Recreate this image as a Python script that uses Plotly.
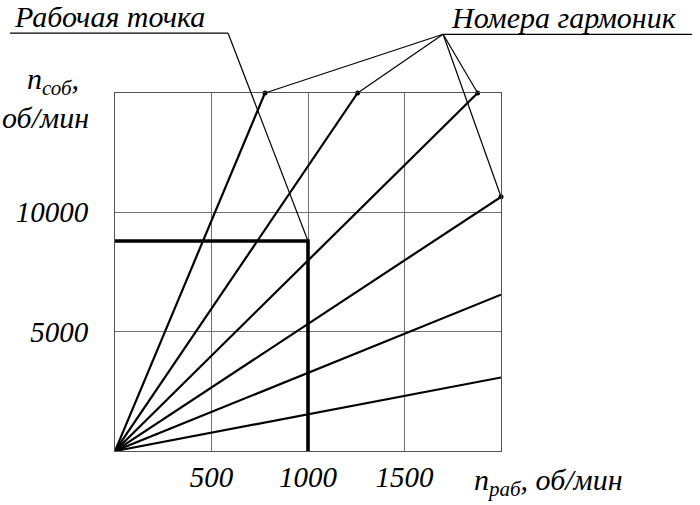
import plotly.graph_objects as go

# ---- data ----
harm_x_end = [777, 1257, 1879, 2000, 2000, 2000]
harm_y_end = [15000, 15000, 15000, 10650, 6550, 3080]
labelled_harmonics = [0, 1, 2, 3]   # endpoints joined to the "Номера гармоник" label

work_x = 1000
work_y = 8800

x_tickvals = [500, 1000, 1500]
x_ticktext = ["500", "1000", "1500"]
y_tickvals = [5000, 10000]
y_ticktext = ["5000", "10000"]

x_range = [0, 2000]
y_range = [0, 15000]

FONT = "Liberation Serif"
FS = 30
TFS = 29

fig = go.Figure()

# harmonic rays from the origin
for xe, ye in zip(harm_x_end, harm_y_end):
    fig.add_trace(go.Scatter(x=[0, xe], y=[0, ye], mode="lines",
                             line=dict(color="black", width=2.2),
                             showlegend=False, hoverinfo="skip"))

# working point
fig.add_trace(go.Scatter(x=[0, work_x, work_x], y=[work_y, work_y, 0], mode="lines",
                         line=dict(color="black", width=3.6),
                         showlegend=False, hoverinfo="skip", cliponaxis=False))

# dots at labelled endpoints
fig.add_trace(go.Scatter(x=[harm_x_end[i] for i in labelled_harmonics],
                         y=[harm_y_end[i] for i in labelled_harmonics],
                         mode="markers", marker=dict(color="black", size=5),
                         showlegend=False, hoverinfo="skip", cliponaxis=False))


def px(xv):
    return (xv - x_range[0]) / (x_range[1] - x_range[0])


def py(yv):
    return (yv - y_range[0]) / (y_range[1] - y_range[0])


LW = 1.2
shapes = []
# "Номера гармоник" leader
apex = (0.850, 1.164)
shapes.append(dict(type="line", xref="paper", yref="paper",
                   x0=apex[0], y0=apex[1], x1=1.495, y1=apex[1],
                   line=dict(color="black", width=LW)))
for i in labelled_harmonics:
    shapes.append(dict(type="line", xref="paper", yref="paper",
                       x0=apex[0], y0=apex[1],
                       x1=px(harm_x_end[i]), y1=py(harm_y_end[i]),
                       line=dict(color="black", width=LW)))
# "Рабочая точка" leader
wp_knee = (0.293, 1.167)
shapes.append(dict(type="line", xref="paper", yref="paper",
                   x0=-0.272, y0=wp_knee[1], x1=wp_knee[0], y1=wp_knee[1],
                   line=dict(color="black", width=LW)))
shapes.append(dict(type="line", xref="paper", yref="paper",
                   x0=wp_knee[0], y0=wp_knee[1], x1=px(work_x), y1=py(work_y),
                   line=dict(color="black", width=LW)))

lab_font = dict(family=FONT, size=FS, style="italic", color="black")
annotations = [
    dict(text="Рабочая точка", xref="paper", yref="paper", x=-0.267, y=1.163,
         xanchor="left", yanchor="bottom", height=26, valign="bottom",
         showarrow=False, font=lab_font),
    dict(text="Номера гармоник", xref="paper", yref="paper", x=0.864, y=1.160,
         xanchor="left", yanchor="bottom", showarrow=False, font=lab_font),
    dict(text="n<sub>раб</sub>, об/мин", xref="paper", yref="paper", x=0.925, y=-0.086,
         xanchor="left", yanchor="middle", showarrow=False, font=lab_font),
    dict(text="n<sub>соб</sub>,", xref="paper", yref="paper", x=-0.161, y=0.975,
         xanchor="center", yanchor="bottom", showarrow=False, font=lab_font),
    dict(text="об/мин", xref="paper", yref="paper", x=-0.181, y=0.931,
         xanchor="center", yanchor="middle", showarrow=False, font=lab_font),
]

axis_common = dict(showgrid=True, gridcolor="#707070", gridwidth=1,
                   showline=True, linecolor="#555555", linewidth=1, mirror=True,
                   zeroline=False, ticks="", ticklen=0,
                   tickfont=dict(family=FONT, size=TFS, style="italic", color="black"))

fig.update_layout(
    width=700, height=505,
    margin=dict(l=115, r=199, t=93, b=52),
    plot_bgcolor="white", paper_bgcolor="white",
    xaxis=dict(range=x_range, tickvals=x_tickvals, ticktext=x_ticktext,
               ticklabelstandoff=0, **axis_common),
    yaxis=dict(range=y_range, tickvals=y_tickvals, ticktext=y_ticktext,
               ticklabelstandoff=20, **axis_common),
    shapes=shapes, annotations=annotations,
    showlegend=False,
)

fig.write_html("out.html",
               config={"displayModeBar": False},
               post_script="document.body.style.margin='0';"
                           "document.documentElement.style.overflow='hidden';")
